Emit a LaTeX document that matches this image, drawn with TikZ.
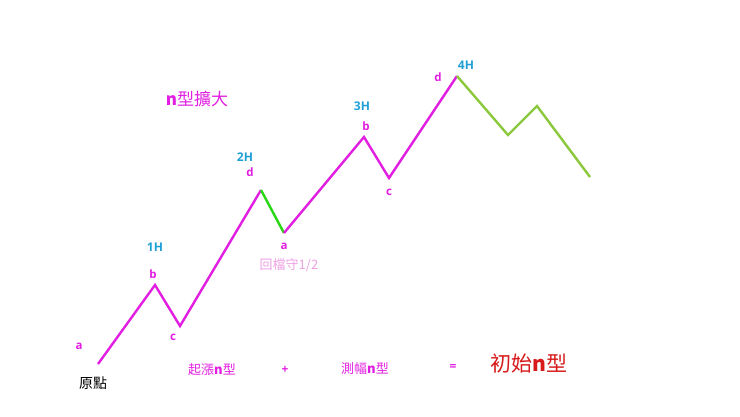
\documentclass[tikz,border=0pt]{standalone}
\usepackage{fontspec}
\setmainfont{Open Sans}
\newfontfamily\cjk{Noto Sans CJK TC}
\definecolor{mag}{RGB}{225,30,225}
\definecolor{hblue}{RGB}{30,160,215}
\definecolor{brgreen}{RGB}{40,215,20}
\definecolor{ygreen}{RGB}{140,200,60}
\definecolor{lpink}{RGB}{238,160,228}
\definecolor{dred}{RGB}{215,25,25}
\tikzset{
  lbl/.style={text=mag,font=\bfseries\fontsize{11.5}{11.5}\selectfont,inner sep=0pt},
  hlbl/.style={text=hblue,font=\bfseries\fontsize{12}{12}\selectfont,inner sep=0pt},
  wave/.style={draw=mag,line width=2.4pt,line join=miter},
  gwave/.style={draw=ygreen,line width=2.4pt},
  bgwave/.style={draw=brgreen,line width=2.4pt},
  txtnode/.style={inner sep=0pt}
}
\begin{document}
\begin{tikzpicture}[x=1pt,y=-1pt]
\useasboundingbox (0,0) rectangle (740,416);
\fill[white] (0,0) rectangle (740,416);
% points
\coordinate (p0) at (98,364);
\coordinate (p1) at (155,285);
\coordinate (p2) at (180,326);
\coordinate (p3) at (261,190);
\coordinate (p4) at (284,233);
\coordinate (p5) at (364,137);
\coordinate (p6) at (389,178);
\coordinate (p7) at (457,76);
\coordinate (p8) at (508,135);
\coordinate (p9) at (537,106);
\coordinate (p10) at (590,177);
% lines
\draw[wave] (p0) -- (p1) -- (p2) -- (p3);
\draw[bgwave] (p3) -- (p4);
\draw[wave] (p4) -- (p5) -- (p6) -- (p7);
\draw[gwave,line join=miter] (p7) -- (p8) -- (p9) -- (p10);
% labels
\node[lbl] (la0) at (79,346) {a};
\node[txtnode,font=\cjk\fontsize{14}{14}\selectfont] (orig) at (93,383) {原點};
\node[hlbl] (h1) at (155,247) {1H};
\node[lbl] (lb1) at (153,274) {b};
\node[lbl] (lc1) at (173,337) {c};
\node[hlbl] (h2) at (245,157) {2H};
\node[lbl] (ld2) at (250,172) {d};
\node[lbl] (la2) at (284,246) {a};
\node[txtnode,text=lpink,font=\cjk\fontsize{13}{13}\selectfont] (ret) at (289,265) {回檔守1/2};
\node[hlbl] (h3) at (362,106) {3H};
\node[lbl] (lb3) at (366,126) {b};
\node[lbl] (lc3) at (389,192) {c};
\node[lbl] (ld4) at (438,77) {d};
\node[hlbl] (h4) at (466,65) {4H};
\node[txtnode,text=mag,font=\cjk\fontsize{17}{17}\selectfont] (title) at (197,99) {\textbf{n}型擴大};
\node[txtnode,text=mag,font=\cjk\fontsize{13}{13}\selectfont] (e1) at (212,370) {起漲\textbf{n}型};
\node[txtnode,text=mag,font=\bfseries\fontsize{12}{12}\selectfont] (plus) at (285,370) {+};
\node[txtnode,text=mag,font=\cjk\fontsize{13}{13}\selectfont] (e2) at (365,369) {測幅\textbf{n}型};
\node[txtnode,text=mag,font=\bfseries\fontsize{12}{12}\selectfont] (eq) at (453,367) {=};
\node[txtnode,text=dred,font=\cjk\fontsize{21}{21}\selectfont] (res) at (529,364) {初始\textbf{n}型};
\end{tikzpicture}
\end{document}
